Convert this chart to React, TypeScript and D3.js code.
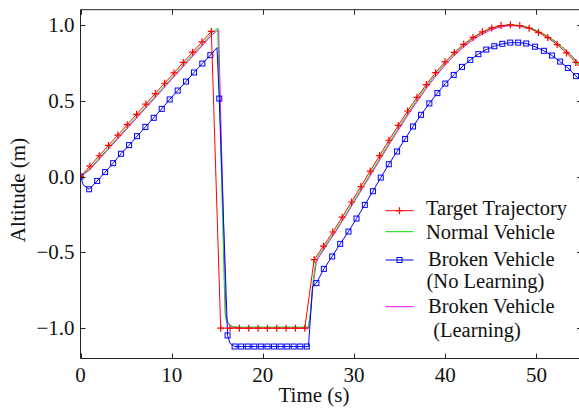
import React from "react";
import * as d3 from "d3";

// ---------- data ----------
const X_TICKS = [0, 10, 20, 30, 40, 50];
const Y_TICKS = [-1.0, -0.5, 0.0, 0.5, 1.0];
const Y_TICK_LABELS = ["\u22121.0", "\u22120.5", "0.0", "0.5", "1.0"];

const TARGET_T = [
  0, 1.025, 2.05, 3.075, 4.1, 5.125, 6.15, 7.175, 8.2, 9.225, 10.25, 11.275, 12.3, 13.325, 14.35,
  15.375, 16.4, 17.425, 18.45, 19.475, 20.5, 21.525, 22.55, 23.575, 24.6,
  25.625, 26.65, 27.675, 28.7, 29.725, 30.75, 31.775, 32.8, 33.825, 34.85, 35.875, 36.9, 37.925,
  38.95, 39.975, 41.0, 42.025, 43.05, 44.075, 45.1, 46.125, 47.15, 48.175, 49.2, 50.225, 51.25,
  52.275, 53.3, 54.325, 55.35,
];
const TARGET_V = [
  0, 0.068, 0.137, 0.205, 0.273, 0.342, 0.41, 0.478, 0.547, 0.615, 0.683, 0.752, 0.82, 0.888, 0.957,
  -1, -1, -1, -1, -1, -1, -1, -1, -1, -1,
  -0.548, -0.459, -0.366, -0.268, -0.168, -0.066, 0.036, 0.138, 0.239, 0.337, 0.432, 0.522, 0.606,
  0.685, 0.756, 0.818, 0.872, 0.917, 0.954, 0.98, 0.995, 1.0, 0.995, 0.978, 0.95, 0.916,
  0.87, 0.815, 0.752, 0.685,
];

const NORMAL_T = [
  0, 1, 3, 5, 7, 9, 11, 13, 14.5, 15.05, 15.3, 15.6, 15.85, 16.0, 16.3, 16.7, 17.5, 25.0, 25.2, 25.5,
  25.8, 26, 27, 28, 29, 30, 31, 32, 33, 34, 35, 36, 37, 38, 39, 40, 41, 42, 43, 44, 45, 46, 47, 48,
  49, 50, 51, 52, 53, 54, 55,
];
const NORMAL_V = [
  0, 0.05, 0.183, 0.317, 0.45, 0.583, 0.717, 0.85, 0.95, 0.978, 0.39, -0.31, -0.9, -0.95, -0.978,
  -0.99, -0.993, -0.993, -0.9, -0.7, -0.56, -0.532, -0.445, -0.354, -0.259, -0.161, -0.062, 0.038,
  0.138, 0.236, 0.332, 0.425, 0.514, 0.598, 0.675, 0.746, 0.808, 0.863, 0.909, 0.946, 0.974, 0.992,
  1.0, 0.997, 0.985, 0.964, 0.933, 0.893, 0.844, 0.785, 0.719,
];

const NOLEARN_T = [
  0, 0.3, 0.95, 1.83, 2.7, 3.58, 4.45, 5.33, 6.2, 7.12, 8.03, 8.91, 9.78, 10.66, 11.57, 12.45,
  13.36, 14.24, 14.97, 15.22, 16.13, 16.4, 16.9, 17.62, 18.34, 19.06, 19.78, 20.5, 21.22, 21.94,
  22.66, 23.38, 24.1, 24.82, 25.0, 25.45, 25.87, 26.69, 27.6, 28.48, 29.39, 30.27, 31.18, 32.07,
  32.93, 33.81, 34.72, 35.6, 36.47, 37.35, 38.26, 39.14, 40.01, 40.93, 41.84, 42.75, 43.63, 44.5,
  45.38, 46.26, 47.13, 48.0, 48.88, 49.85, 50.82, 51.7, 52.6, 53.45, 54.35, 55.2,
];
const NOLEARN_V = [
  0, -0.055, -0.084, -0.029, 0.029, 0.088, 0.15, 0.207, 0.266, 0.327, 0.387, 0.446, 0.508, 0.567,
  0.626, 0.686, 0.745, 0.8, 0.85, 0.514, -1.048, -1.1, -1.121, -1.121, -1.121, -1.121, -1.121,
  -1.121, -1.121, -1.121, -1.121, -1.121, -1.121, -1.121, -1.121, -0.725, -0.703, -0.609, -0.527,
  -0.444, -0.363, -0.277, -0.187, -0.097, -0.007, 0.081, 0.165, 0.248, 0.33, 0.407, 0.482, 0.55,
  0.613, 0.67, 0.723, 0.769, 0.807, 0.837, 0.859, 0.875, 0.883, 0.883, 0.877, 0.856, 0.829, 0.798,
  0.758, 0.716, 0.662, 0.61,
];
const NOLEARN_MARK = [
  1, 0, 1, 1, 1, 1, 1, 1, 1, 1, 1, 1, 1, 1, 1, 1, 1, 1, 0, 1, 1, 0, 1, 1, 1, 1, 1, 1, 1, 1, 1, 1, 1,
  1, 0, 0, 1, 1, 1, 1, 1, 1, 1, 1, 1, 1, 1, 1, 1, 1, 1, 1, 1, 1, 1, 1, 1, 1, 1, 1, 1, 1, 1, 1, 1, 1,
  1, 1, 1, 1,
];

const LEARN_T = [
  0, 1, 3, 5, 7, 9, 11, 13, 14.5, 15.15, 15.4, 15.7, 15.95, 16.1, 16.4, 16.8, 17.5, 25.0, 25.2, 25.5,
  25.85, 26, 27, 28, 29, 30, 31, 32, 33, 34, 35, 36, 37, 38, 39, 40, 41, 42, 43, 44, 45, 46, 47, 48,
  49, 50, 51, 52, 53, 54, 55,
];
const LEARN_V = [
  0, 0.043, 0.176, 0.308, 0.441, 0.574, 0.707, 0.839, 0.939, 0.968, 0.35, -0.35, -0.9, -0.955,
  -0.982, -0.995, -1.0, -1.0, -0.92, -0.72, -0.57, -0.545, -0.452, -0.362, -0.267, -0.169, -0.071,
  0.028, 0.127, 0.226, 0.321, 0.414, 0.502, 0.587, 0.665, 0.735, 0.798, 0.853, 0.899, 0.937, 0.966,
  0.985, 0.994, 0.993, 0.982, 0.962, 0.932, 0.894, 0.846, 0.788, 0.723,
];

const LEGEND_LABELS = [
  ["Target Trajectory"],
  ["Normal Vehicle"],
  ["Broken Vehicle", "(No Learning)"],
  ["Broken Vehicle", " (Learning)"],
];

// ---------- layout ----------
const W = 579;
const H = 416;
const X0 = 80.5;
const X1 = 582;
const Y0 = 358.5;
const Y1 = 9.7;
const FONT = "'Liberation Serif', 'Times New Roman', serif";
const RED = "#ff0000";
const GREEN = "#00e000";
const BLUE = "#0000ff";
const MAGENTA = "#ff00ff";

export default function App() {
  const x = d3.scaleLinear().domain([0, 55]).range([X0, X1]);
  const y = d3.scaleLinear().domain([-1.2, 1.1]).range([Y0, Y1]);

  const mk = (ts: number[], vs: number[]) => ts.map((t, i) => [t, vs[i]] as [number, number]);
  const line = d3
    .line<[number, number]>()
    .x((d) => x(d[0]))
    .y((d) => y(d[1]));

  const target = mk(TARGET_T, TARGET_V);
  const normal = mk(NORMAL_T, NORMAL_V);
  const nolearn = mk(NOLEARN_T, NOLEARN_V);
  const learn = mk(LEARN_T, LEARN_V);

  const plus = (cx: number, cy: number, key: string | number, r = 3.5) => (
    <path
      key={key}
      d={`M${cx - r},${cy}H${cx + r}M${cx},${cy - r}V${cy + r}`}
      stroke={RED}
      strokeWidth={1.2}
      fill="none"
    />
  );
  const square = (cx: number, cy: number, key: string | number, s = 5) => (
    <rect key={key} x={cx - s / 2} y={cy - s / 2} width={s} height={s} stroke={BLUE} strokeWidth={1} fill="none" />
  );

  const legendX0 = 385.5;
  const legendX1 = 413.5;
  const legendMid = (legendX0 + legendX1) / 2;
  const legendRows = [
    { color: RED, ly: 210.7, texts: [{ x: 426, y: 215 }], marker: "plus" },
    { color: GREEN, ly: 231.7, texts: [{ x: 426, y: 239 }], marker: "" },
    { color: BLUE, ly: 260, texts: [{ x: 428, y: 266 }, { x: 426.5, y: 288 }], marker: "square" },
    { color: MAGENTA, ly: 306.7, texts: [{ x: 428, y: 313 }, { x: 428, y: 337 }], marker: "" },
  ];

  return (
    <svg width={W} height={H} viewBox={`0 0 ${W} ${H}`} style={{ position: "absolute", left: 0, top: 0, background: "#fff" }}>
      <defs>
        <clipPath id="plotclip">
          <rect x={X0} y={Y1} width={X1 - X0} height={Y0 - Y1} />
        </clipPath>
      </defs>

      <g clipPath="url(#plotclip)">
        <path d={line(learn) ?? ""} stroke={MAGENTA} strokeWidth={1} fill="none" />
        <path d={line(normal) ?? ""} stroke={GREEN} strokeWidth={1} fill="none" />
        <path d={line(nolearn) ?? ""} stroke={BLUE} strokeWidth={1} fill="none" />
        {nolearn.map((d, i) => (NOLEARN_MARK[i] ? square(x(d[0]), y(d[1]), "s" + i) : null))}
        <path d={line(target) ?? ""} stroke={RED} strokeWidth={1} fill="none" />
        {target.map((d, i) => plus(x(d[0]), y(d[1]), "p" + i))}
      </g>

      <g stroke="#222" strokeWidth={1} fill="none">
        <line x1={X0} x2={X1} y1={Y1} y2={Y1} />
        <line x1={X0} x2={X1} y1={Y0} y2={Y0} />
        <line x1={X0} x2={X0} y1={Y1} y2={Y0} />
        <line x1={X1} x2={X1} y1={Y1} y2={Y0} />
        {X_TICKS.map((t) => (
          <g key={"xt" + t}>
            <line x1={Math.round(x(t)) + 0.5} x2={Math.round(x(t)) + 0.5} y1={Y0} y2={Y0 - 5} />
            <line x1={Math.round(x(t)) + 0.5} x2={Math.round(x(t)) + 0.5} y1={Y1} y2={Y1 + 5} />
          </g>
        ))}
        {Y_TICKS.map((t) => (
          <g key={"yt" + t}>
            <line x1={X0} x2={X0 + 5} y1={Math.round(y(t)) + 0.5} y2={Math.round(y(t)) + 0.5} />
            <line x1={X1} x2={X1 - 5} y1={Math.round(y(t)) + 0.5} y2={Math.round(y(t)) + 0.5} />
          </g>
        ))}
      </g>

      <g fontSize={21} fill="#111" fontFamily={FONT}>
        {X_TICKS.map((t) => (
          <text key={"xl" + t} x={x(t)} y={381.5} textAnchor="middle">
            {t}
          </text>
        ))}
        {Y_TICKS.map((t, i) => (
          <text key={"yl" + t} x={74.5} y={y(t) + 7} textAnchor="end">
            {Y_TICK_LABELS[i]}
          </text>
        ))}
      </g>

      <g fontFamily={FONT} fontSize={21} fill="#111">
        <text x={314} y={402} textAnchor="middle">
          Time (s)
        </text>
        <text transform="translate(25,190) rotate(-90)" textAnchor="middle">
          Altitude (m)
        </text>
      </g>

      <g fontSize={20.5} fill="#111" fontFamily={FONT}>
        {legendRows.map((r, i) => (
          <g key={"lg" + i}>
            <line x1={legendX0} x2={legendX1} y1={r.ly} y2={r.ly} stroke={r.color} strokeWidth={1} />
            {r.marker === "plus" ? plus(legendMid, r.ly, "lp") : null}
            {r.marker === "square" ? square(legendMid, r.ly, "ls") : null}
            {r.texts.map((tp, j) => (
              <text key={j} x={tp.x} y={tp.y} style={{ whiteSpace: "pre" }}>
                {LEGEND_LABELS[i][j]}
              </text>
            ))}
          </g>
        ))}
      </g>
    </svg>
  );
}
